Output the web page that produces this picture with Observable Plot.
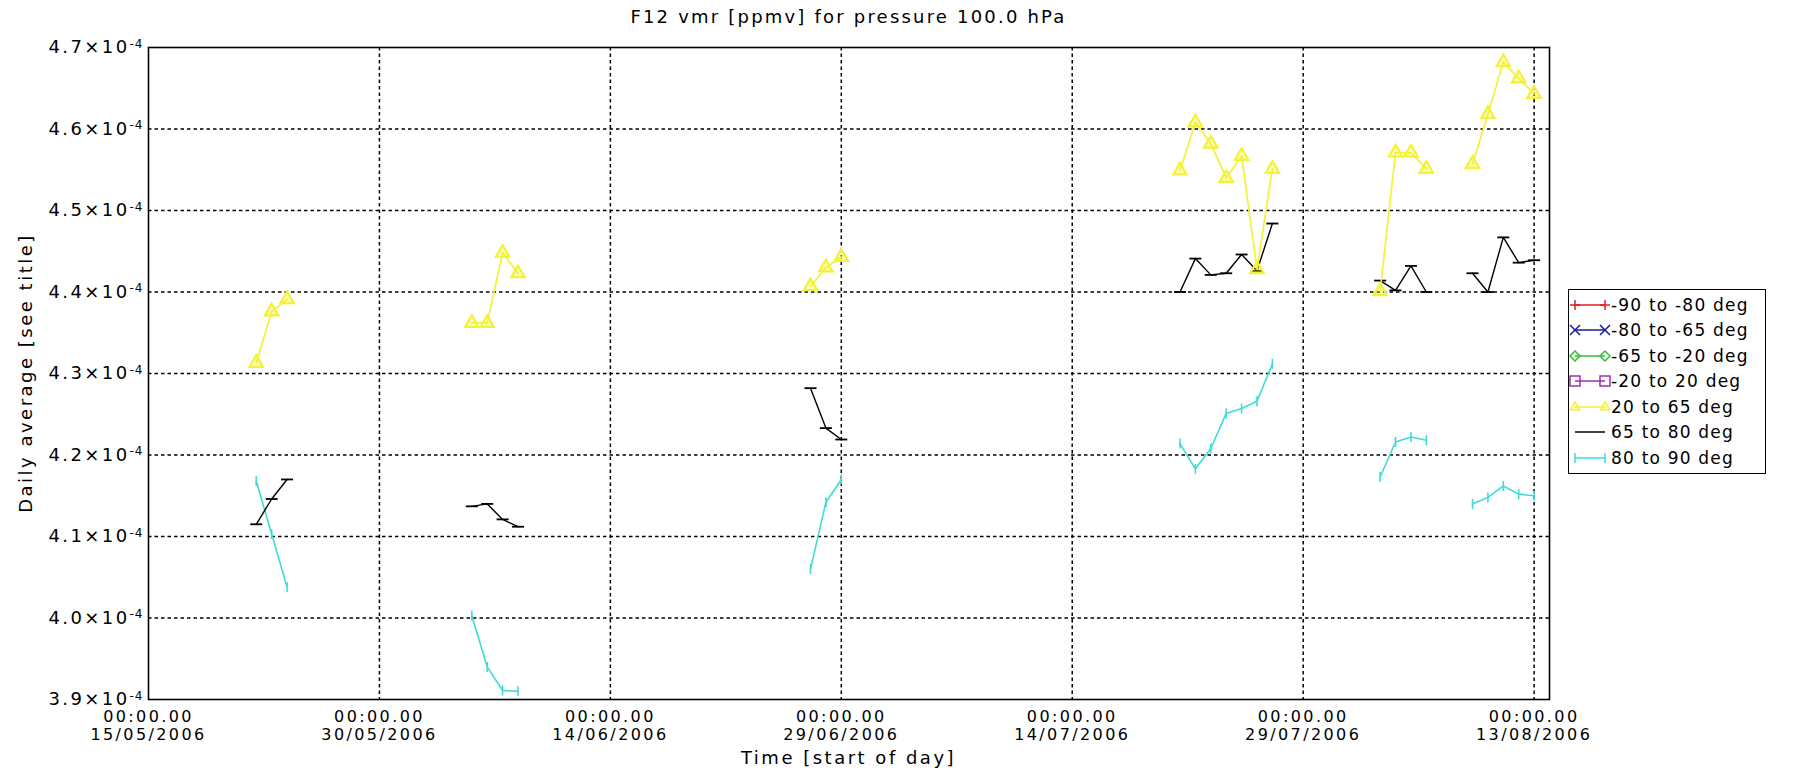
<!DOCTYPE html>
<html>
<head>
<meta charset="utf-8">
<script src="https://cdn.jsdelivr.net/npm/d3@7"></script>
<script src="https://cdn.jsdelivr.net/npm/@observablehq/plot@0.6"></script>
<style>
  body { margin: 0; background: #fff; }
  #wrap { position: relative; width: 1801px; height: 784px; font-family: "DejaVu Sans", sans-serif; color: #000; overflow: hidden; }
  #chart { position: absolute; left: 0; top: 0; }
  #title { position: absolute; left: 148px; width: 1401px; top: 6px; text-align: center; font-size: 18px; letter-spacing: 2.2px; }
  #ylab { position: absolute; left: 25px; top: 373px; transform: translate(-50%, -50%) rotate(-90deg); white-space: nowrap; font-size: 18px; letter-spacing: 2.5px; }
  #xlab { position: absolute; left: 148px; width: 1401px; top: 747px; text-align: center; font-size: 18px; letter-spacing: 2.5px; }
  #legend { position: absolute; left: 1568px; top: 289px; width: 196px; border: 1.5px solid #000; padding: 2px 0 2px 0; background: #fff; }
  .row { display: flex; align-items: center; height: 25.5px; font-size: 17px; letter-spacing: 1.2px; white-space: nowrap; }
  .row svg { flex: none; }
</style>
</head>
<body>
<div id="wrap">
  <div id="chart"></div>
  <div id="title">F12 vmr [ppmv] for pressure 100.0 hPa</div>
  <div id="ylab">Daily average [see title]</div>
  <div id="xlab">Time [start of day]</div>
  <div id="legend"></div>
</div>
<script>
// ---------- data ----------
const tickDates = ["2006-05-15", "2006-05-30", "2006-06-14", "2006-06-29", "2006-07-14", "2006-07-29", "2006-08-13"];
const yTickValues = [3.9e-4, 4.0e-4, 4.1e-4, 4.2e-4, 4.3e-4, 4.4e-4, 4.5e-4, 4.6e-4, 4.7e-4];

const seriesNames = ["-90 to -80 deg", "-80 to -65 deg", "-65 to -20 deg", "-20 to 20 deg", "20 to 65 deg", "65 to 80 deg", "80 to 90 deg"];

const days = [
  "2006-05-22", "2006-05-23", "2006-05-24",
  "2006-06-05", "2006-06-06", "2006-06-07", "2006-06-08",
  "2006-06-27", "2006-06-28", "2006-06-29",
  "2006-07-21", "2006-07-22", "2006-07-23", "2006-07-24", "2006-07-25", "2006-07-26", "2006-07-27",
  "2006-08-03", "2006-08-04", "2006-08-05", "2006-08-06",
  "2006-08-09", "2006-08-10", "2006-08-11", "2006-08-12", "2006-08-13"
];

// 20 to 65 deg
const lat20to65 = [
  4.313e-4, 4.376e-4, 4.391e-4,
  4.362e-4, 4.362e-4, 4.448e-4, 4.423e-4,
  4.407e-4, 4.430e-4, 4.443e-4,
  4.549e-4, 4.608e-4, 4.582e-4, 4.540e-4, 4.567e-4, 4.428e-4, 4.551e-4,
  4.401e-4, 4.571e-4, 4.571e-4, 4.551e-4,
  4.557e-4, 4.618e-4, 4.682e-4, 4.662e-4, 4.643e-4
];
// 65 to 80 deg
const lat65to80 = [
  4.115e-4, 4.146e-4, 4.170e-4,
  4.137e-4, 4.140e-4, 4.121e-4, 4.112e-4,
  4.282e-4, 4.233e-4, 4.219e-4,
  4.400e-4, 4.441e-4, 4.421e-4, 4.423e-4, 4.446e-4, 4.426e-4, 4.484e-4,
  4.414e-4, 4.402e-4, 4.432e-4, 4.400e-4,
  4.423e-4, 4.400e-4, 4.467e-4, 4.436e-4, 4.439e-4
];
// 80 to 90 deg
const lat80to90 = [
  4.168e-4, 4.103e-4, 4.038e-4,
  4.003e-4, 3.940e-4, 3.911e-4, 3.910e-4,
  4.060e-4, 4.142e-4, 4.170e-4,
  4.214e-4, 4.183e-4, 4.208e-4, 4.251e-4, 4.257e-4, 4.266e-4, 4.312e-4,
  4.173e-4, 4.216e-4, 4.222e-4, 4.218e-4,
  4.140e-4, 4.148e-4, 4.162e-4, 4.152e-4, 4.150e-4
];

const seriesColors = ["#e02020", "#1a1a9a", "#30c030", "#9a30b0", "#f2f238", "#000000", "#40dcd4"];

// ---------- build table (segments break at missing days) ----------
function build(values) {
  let seg = 0;
  return days.map((d, i) => {
    const date = new Date(d);
    if (i > 0 && (date - new Date(days[i - 1])) > 86400000 * 1.5) seg++;
    return {date, value: values[i], seg};
  });
}
const yellowData = build(lat20to65);
const blackData = build(lat65to80);
const cyanData = build(lat80to90);

const vtick = {draw(ctx, size) { const r = Math.sqrt(size / Math.PI); ctx.moveTo(0, -r); ctx.lineTo(0, r); }};
const htick = {draw(ctx, size) { const r = Math.sqrt(size / Math.PI); ctx.moveTo(-r, 0); ctx.lineTo(r, 0); }};

const xTicks = tickDates.map(d => new Date(d));
const fmtDate = d3.utcFormat("%d/%m/%Y");
const YEL = seriesColors[4], BLK = seriesColors[5], CYN = seriesColors[6];

const chart = Plot.plot({
  width: 1801,
  height: 784,
  marginLeft: 148,
  marginRight: 252,
  marginTop: 47,
  marginBottom: 85,
  style: {fontFamily: "DejaVu Sans, sans-serif", fontSize: "17px", letterSpacing: "2.4px", background: "transparent", color: "#000"},
  x: {type: "utc", domain: [new Date("2006-05-15"), new Date("2006-08-14")]},
  y: {domain: [3.9e-4, 4.7e-4]},
  marks: [
    Plot.ruleY(yTickValues.slice(1, -1), {stroke: "#000", strokeWidth: 1.5, strokeDasharray: "3.5,3"}),
    Plot.ruleX(xTicks.slice(1), {stroke: "#000", strokeWidth: 1.5, strokeDasharray: "3.5,3"}),
    Plot.axisX({ticks: xTicks, tickSize: 0, tickPadding: 10, label: null, lineHeight: 1.12,
      tickFormat: d => "00:00.00\n" + fmtDate(d), fontSize: 16}),
    Plot.axisY({ticks: yTickValues, tickSize: 0, tickPadding: 5, label: null,
      tickFormat: d => (d * 1e4).toFixed(1) + "×10|-4", fontSize: 18}),
    Plot.line(cyanData, {x: "date", y: "value", z: "seg", stroke: CYN, strokeWidth: 1.6}),
    Plot.dot(cyanData, {x: "date", y: "value", symbol: vtick, r: 5, stroke: CYN, fill: "none", strokeWidth: 1.6}),
    Plot.line(blackData, {x: "date", y: "value", z: "seg", stroke: BLK, strokeWidth: 1.4}),
    Plot.dot(blackData, {x: "date", y: "value", symbol: htick, r: 6, stroke: BLK, fill: "none", strokeWidth: 1.8}),
    Plot.line(yellowData, {x: "date", y: "value", z: "seg", stroke: YEL, strokeWidth: 1.7}),
    Plot.dot(yellowData, {x: "date", y: "value", symbol: "triangle", r: 5, stroke: YEL, fill: YEL, fillOpacity: 0.35, strokeWidth: 2.2}),
    Plot.frame({stroke: "#000", strokeWidth: 1.6})
  ]
});
document.getElementById("chart").appendChild(chart);

// superscript exponent on the y tick labels
d3.select(chart).selectAll("text").each(function() {
  const t = this.textContent;
  if (t.includes("×10|")) {
    const [base, exp] = t.split("|");
    const sel = d3.select(this);
    sel.text(null);
    sel.append("tspan").text(base);
    sel.append("tspan").attr("dy", "-0.45em").attr("font-size", "12px").attr("letter-spacing", "1px").text(exp);
  }
});

// ---------- legend ----------
const legendSymbols = [
  g => { g.append("path").attr("d", "M-5,0H5M0,-5V5"); },
  g => { g.append("path").attr("d", "M-5,-5L5,5M-5,5L5,-5"); },
  g => { g.append("path").attr("d", "M-5,0L0,-5L5,0L0,5Z"); },
  g => { g.append("path").attr("d", "M-5,-5H5V5H-5Z"); },
  g => { g.append("path").attr("d", d3.symbol(d3.symbolTriangle2, 60)()).attr("fill", seriesColors[4]).attr("fill-opacity", 0.35); },
  g => { },
  g => { g.append("path").attr("d", "M0,-5V5"); }
];
const legend = d3.select("#legend");
seriesNames.forEach((name, i) => {
  const row = legend.append("div").attr("class", "row");
  const svg = row.append("svg").attr("width", 42).attr("height", 22);
  const col = seriesColors[i];
  svg.append("line").attr("x1", 6).attr("x2", 36).attr("y1", 11).attr("y2", 11)
    .attr("stroke", col).attr("stroke-width", 1.5);
  [6, 36].forEach(x => {
    const g = svg.append("g").attr("transform", `translate(${x},11)`)
      .attr("stroke", col).attr("fill", "none").attr("stroke-width", 1.5);
    legendSymbols[i](g);
  });
  row.append("span").text(name);
});
</script>
</body>
</html>
